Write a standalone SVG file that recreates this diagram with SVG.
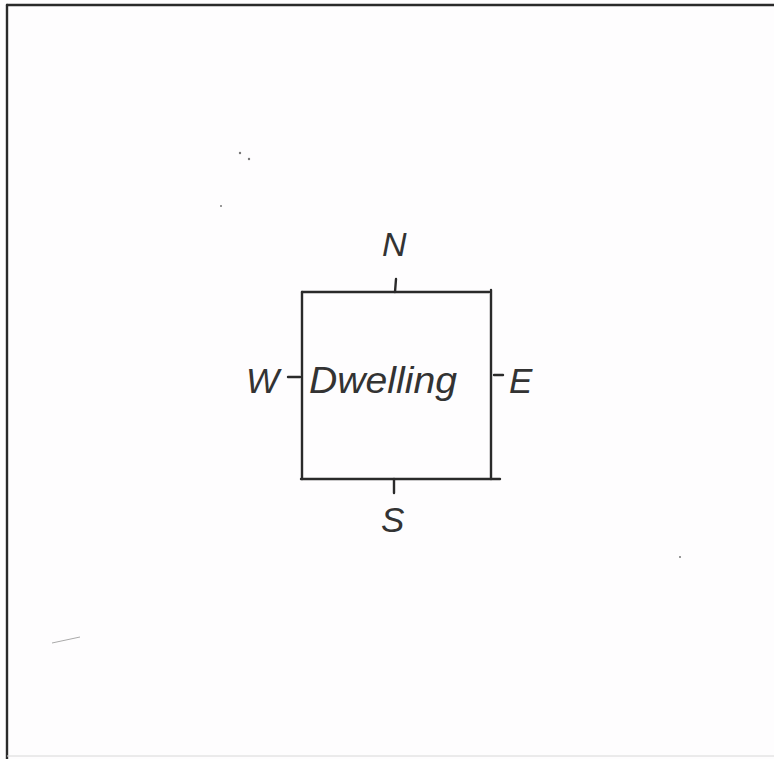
<svg xmlns="http://www.w3.org/2000/svg" width="774" height="759" viewBox="0 0 774 759">
<style>
.ln{stroke:#2a2a2a;stroke-width:2.4;fill:none;stroke-linecap:round}
.tx{font-family:"Liberation Sans",Arial,sans-serif;font-style:italic;fill:#333}
</style>
<rect width="774" height="759" fill="#fefdfe"/>
<g id="frame">
<line class="ln" x1="7" y1="5" x2="774" y2="5" stroke-width="2.6"/>
<line class="ln" x1="7" y1="5" x2="7" y2="759" stroke-width="2.6"/>
<line x1="7" y1="756" x2="774" y2="756" stroke="#d8d8d8" stroke-width="1"/>
</g>
<g id="dwelling">
<line class="ln" x1="302" y1="292" x2="489" y2="292"/>
<line class="ln" x1="302" y1="292" x2="302" y2="479"/>
<line class="ln" x1="491" y1="290" x2="491" y2="479"/>
<line class="ln" x1="301" y1="479" x2="500" y2="479"/>
<text class="tx" x="309" y="393" font-size="36" textLength="148" lengthAdjust="spacingAndGlyphs">Dwelling</text>
</g>
<g id="connectors">
<line class="ln" x1="396" y1="279" x2="395" y2="292"/>
<line class="ln" x1="394" y1="479" x2="394" y2="493"/>
<line class="ln" x1="288" y1="377" x2="300" y2="377"/>
<line class="ln" x1="494" y1="375" x2="503" y2="375"/>
</g>
<g id="north"><text class="tx" x="382" y="256" font-size="34">N</text></g>
<g id="south"><text class="tx" x="381" y="532" font-size="35">S</text></g>
<g id="west"><text class="tx" x="246" y="393" font-size="35">W</text></g>
<g id="east"><text class="tx" x="509" y="393" font-size="35">E</text></g>
<g id="specks" fill="#777">
<circle cx="240" cy="153" r="1.2"/><circle cx="249" cy="159" r="1.2"/>
<circle cx="221" cy="206" r="1"/><circle cx="680" cy="557" r="1"/>
<line x1="52" y1="643" x2="80" y2="637" stroke="#aaa" stroke-width="1"/>
</g>
</svg>
